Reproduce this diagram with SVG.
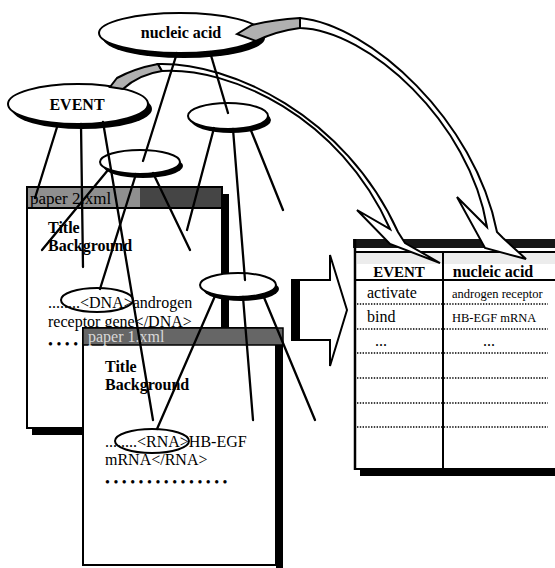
<svg xmlns="http://www.w3.org/2000/svg" width="555" height="568" viewBox="0 0 555 568">
  <style>
    .t { font-family: "Liberation Serif", "Times New Roman", serif; font-size: 16px; fill: #000; }
    .b { font-weight: bold; }
    .small { font-size: 12.5px; }
    .edge { stroke: #000; stroke-width: 2.3; fill: none; stroke-linecap: round; }
    .node { fill: #fff; stroke: #000; stroke-width: 2; }
    .shadow { fill: #000; }
    .mark { fill: none; stroke: #000; stroke-width: 2; }
    .ribbon { fill: #fff; stroke: #000; stroke-width: 2; stroke-linejoin: miter; }
    .twist { fill: #b0b0b0; stroke: #000; stroke-width: 2; }
    .dots { stroke: #000; stroke-width: 1.6; stroke-dasharray: 1.4 1.4; }
    .bullets { font-family: "Liberation Serif", serif; font-size: 14px; letter-spacing: 3.5px; }
  </style>

  <!-- back document -->
  <g id="paper2">
    <rect class="shadow" x="222" y="194" width="7" height="241"/>
    <rect class="shadow" x="32" y="428" width="197" height="7"/>
    <rect x="27" y="187" width="195" height="241" fill="#fff" stroke="#000" stroke-width="2"/>
    <rect x="27" y="187" width="195" height="21" fill="#8f8f8f" stroke="#000" stroke-width="2"/>
    <rect x="140" y="188" width="81" height="19" fill="#454545"/>
    <text class="t" x="30" y="204" style="font-size:17px">paper 2.xml</text>
    <text class="t b" x="48" y="233">Title</text>
    <text class="t b" x="48" y="251">Background</text>
    <text class="t" x="48" y="308">........&lt;DNA&gt;androgen</text>
    <text class="t" x="48" y="327">receptor gene&lt;/DNA&gt;</text>
    <text class="bullets" x="48" y="349">•••••••••••••••</text>
    <ellipse class="mark" cx="97" cy="300" rx="36" ry="12"/>
  </g>

  <!-- front document -->
  <g id="paper1">
    <rect class="shadow" x="276" y="334" width="7" height="234"/>
    <rect x="83" y="328" width="193" height="237" fill="#fff" stroke="#000" stroke-width="2"/>
    <rect x="83" y="328" width="200" height="17" fill="#666" stroke="#000" stroke-width="1.5"/>
    <text class="t" x="88" y="342" style="fill:#d8d8d8">paper 1.xml</text>
    <text class="t b" x="105" y="372">Title</text>
    <text class="t b" x="105" y="390">Background</text>
    <text class="t" x="105" y="447">........&lt;RNA&gt;HB-EGF</text>
    <text class="t" x="105" y="465">mRNA&lt;/RNA&gt;</text>
    <text class="bullets" x="105" y="487">•••••••••••••••</text>
    <ellipse class="mark" cx="152" cy="441" rx="37" ry="12"/>
  </g>

  <!-- extracted table -->
  <g id="table">
    <rect x="353" y="239" width="202" height="9" fill="#161616"/>
    <rect x="355" y="251" width="200" height="2" fill="#000"/>
    <rect x="357" y="253" width="198" height="11" fill="#ececec"/>
    <rect class="shadow" x="360" y="470" width="195" height="6"/>
    <line x1="355" y1="239" x2="355" y2="470" stroke="#000" stroke-width="2.5"/>
    <line x1="355" y1="469" x2="555" y2="469" stroke="#000" stroke-width="2"/>
    <line x1="443" y1="252" x2="443" y2="469" stroke="#000" stroke-width="2"/>
    <line x1="355" y1="280" x2="555" y2="280" stroke="#000" stroke-width="2"/>
    <g class="dots">
      <line x1="357" y1="304" x2="548" y2="304"/>
      <line x1="357" y1="329" x2="548" y2="329"/>
      <line x1="357" y1="353" x2="548" y2="353"/>
      <line x1="357" y1="378" x2="548" y2="378"/>
      <line x1="357" y1="403" x2="548" y2="403"/>
      <line x1="357" y1="427" x2="548" y2="427"/>
    </g>
    <text class="t b" x="399" y="277" text-anchor="middle" style="font-size:15px">EVENT</text>
    <text class="t b" x="493" y="277" text-anchor="middle">nucleic acid</text>
    <text class="t" x="367" y="298">activate</text>
    <text class="t" x="367" y="322">bind</text>
    <text class="t" x="375" y="346">...</text>
    <text class="t small" x="452" y="298">androgen receptor</text>
    <text class="t small" x="452" y="322">HB-EGF mRNA</text>
    <text class="t" x="483" y="346">...</text>
  </g>

  <!-- extraction arrow -->
  <g id="extract-arrow">
    <polygon points="292,280 330,280 330,255 347,310 330,366 330,340 292,340" fill="#fff" stroke="#000" stroke-width="2"/>
    <rect class="shadow" x="292" y="280" width="8" height="60"/>
  </g>

  <!-- concept tree nodes -->
  <g id="nucleic-acid">
    <ellipse class="shadow" cx="184" cy="38" rx="81" ry="20"/>
    <ellipse class="node" cx="180" cy="33" rx="81" ry="20"/>
    <text class="t b" x="181" y="38" text-anchor="middle">nucleic acid</text>
  </g>
  <g id="event">
    <ellipse class="shadow" cx="82" cy="109" rx="70" ry="20"/>
    <ellipse class="node" cx="78" cy="104" rx="70" ry="20"/>
    <text class="t b" x="77" y="110" text-anchor="middle">EVENT</text>
  </g>
  <g id="node-right">
    <ellipse class="shadow" cx="231" cy="120" rx="40" ry="13"/>
    <ellipse class="node" cx="228" cy="116" rx="40" ry="13"/>
  </g>
  <g id="node-middle">
    <ellipse class="shadow" cx="143" cy="166" rx="40" ry="12"/>
    <ellipse class="node" cx="140" cy="162" rx="40" ry="12"/>
  </g>
  <g id="node-lower">
    <ellipse class="shadow" cx="241" cy="289" rx="38" ry="12"/>
    <ellipse class="node" cx="238" cy="285" rx="38" ry="12"/>
  </g>

  <!-- curved ribbon arrows into the table columns -->
  <g id="ribbons">
    <path class="twist" d="M 110,87 L 117,78 C 128,72 142,67 158,64 L 162,71 C 148,73 134,79 123,89 Z"/>
    <path class="ribbon" d="M 158,64 C 230,62 345,115 398,232 L 405,243 L 440,263 L 390,244 L 357,210 L 390,229 C 340,116 230,67 162,71 Z"/>
    <path class="twist" d="M 237,34 L 252,25 C 268,21 285,19 300,18 L 300,28 C 285,30 268,35 256,41 Z"/>
    <path class="ribbon" d="M 300,18 C 370,25 475,120 497,232 L 503,238 L 526,259 L 485,248 L 457,197 L 487,227 C 470,122 368,30 300,28 Z"/>
  </g>

  <!-- tree edges -->
  <g id="connectors" class="edge">
    <line x1="177" y1="53" x2="143" y2="161"/>
    <line x1="210" y1="52" x2="228" y2="113"/>
    <line x1="58" y1="124" x2="35" y2="198"/>
    <line x1="81" y1="124" x2="83" y2="267"/>
    <line x1="103" y1="122" x2="153" y2="420"/>
    <line x1="108" y1="170" x2="42" y2="250"/>
    <line x1="136" y1="174" x2="100" y2="289"/>
    <line x1="153" y1="173" x2="190" y2="250"/>
    <line x1="214" y1="128" x2="187" y2="230"/>
    <line x1="233" y1="129" x2="245" y2="280"/>
    <line x1="250" y1="128" x2="283" y2="210"/>
    <line x1="215" y1="296" x2="157" y2="429"/>
    <line x1="243" y1="297" x2="253" y2="420"/>
    <line x1="263" y1="295" x2="315" y2="420"/>
  </g>
</svg>
